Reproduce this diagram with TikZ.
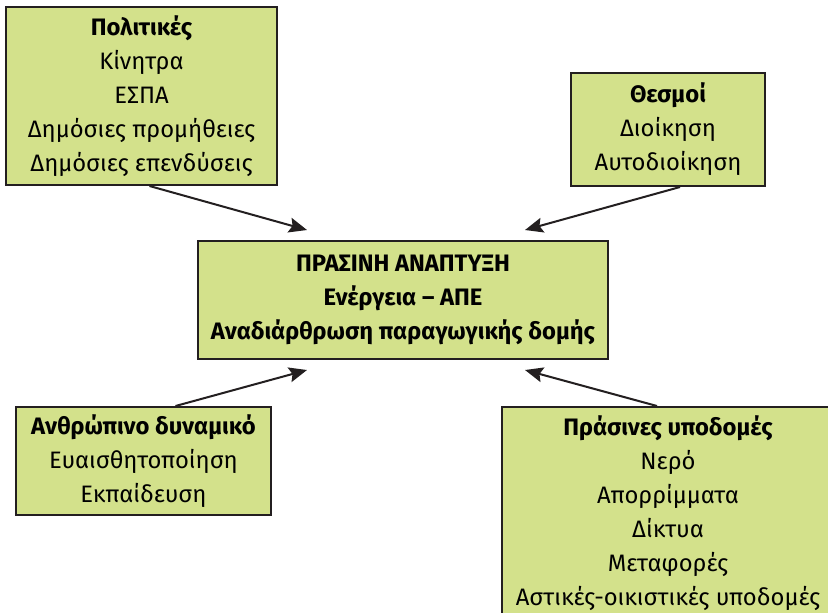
\documentclass[tikz,border=0pt]{standalone}
\usepackage{fontspec}
\setmainfont{Fira Sans}
\usetikzlibrary{arrows.meta}
\definecolor{boxgreen}{RGB}{211,225,139}
\definecolor{boxline}{RGB}{35,31,32}
\tikzset{
  topic/.style={draw=boxline, fill=boxgreen, line width=1pt, align=center,
    inner sep=0pt, font=\fontsize{11.9}{17}\selectfont},
  push/.style={draw=boxline, line width=1pt,
    -{Stealth[length=9pt,width=7.5pt,inset=1.5pt]}}
}
% #1 name, #2 centre, #3 width, #4 height, #5 text
\newcommand{\topicbox}[5]{
\node[topic, minimum width=#3, minimum height=#4] (#1) at (#2) {#5};
}

\begin{document}
\begin{tikzpicture}[x=0.5pt,y=-0.5pt]
\useasboundingbox (0,0) rectangle (828,612);
\clip (0,0) rectangle (828,612);
\topicbox{pol}{141.5,96}{135.5pt}{89pt}{\textbf{Πολιτικές}\\Κίνητρα\\ΕΣΠΑ\\Δημόσιες προμήθειες\\Δημόσιες επενδύσεις}
\topicbox{thes}{668,129.5}{97pt}{56.5pt}{\textbf{Θεσμοί}\\Διοίκηση\\Αυτοδιοίκηση}
\topicbox{green}{403,300}{205pt}{59pt}{\textbf{ΠΡΑΣΙΝΗ ΑΝΑΠΤΥΞΗ}\\\textbf{Ενέργεια – ΑΠΕ}\\\textbf{Αναδιάρθρωση παραγωγικής δομής}}
\topicbox{anth}{143.5,461}{127.5pt}{54pt}{\textbf{Ανθρώπινο δυναμικό}\\Ευαισθητοποίηση\\Εκπαίδευση}
\topicbox{infra}{668,513.5}{166pt}{106.5pt}{\textbf{Πράσινες υποδομές}\\Νερό\\Απορρίμματα\\Δίκτυα\\Μεταφορές\\Αστικές-οικιστικές υποδομές}
% arrow tips, just short of the centre box
\coordinate (tipPol) at (307,230);
\coordinate (tipThes) at (525,230);
\coordinate (tipAnth) at (307,370);
\coordinate (tipInfra) at (525,370);
\draw[push] ([xshift=4pt]pol.south) -- (tipPol);
\draw[push] ([xshift=6pt]thes.south) -- (tipThes);
\draw[push] ([xshift=16pt]anth.north) -- (tipAnth);
\draw[push] ([xshift=-5.5pt]infra.north) -- (tipInfra);
\end{tikzpicture}
\end{document}
